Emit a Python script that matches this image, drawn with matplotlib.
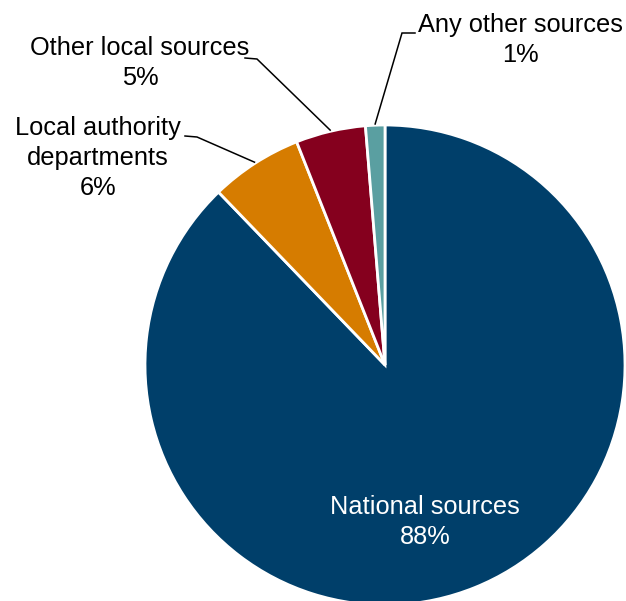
import matplotlib
matplotlib.use("Agg")
import matplotlib.pyplot as plt
import numpy as np

categories = ["National sources", "Local authority\ndepartments", "Other local sources", "Any other sources"]
values = [87.8, 6.2, 4.7, 1.3]
colors = ["#003F6A", "#D67C00", "#85001E", "#5A9FA1"]

plt.rcParams['font.family'] = ['Liberation Sans', 'DejaVu Sans']

W, H = 626, 601
fig = plt.figure(figsize=(W / 100, H / 100), dpi=100)
cx, cy, R = 385, 365, 240
ax = fig.add_axes([(cx - R) / W, (H - cy - R) / H, 2 * R / W, 2 * R / H])

wedges, _ = ax.pie(values, colors=colors, startangle=90, counterclock=False,
                   radius=1.0, wedgeprops=dict(edgecolor='white', linewidth=2))
ax.set_xlim(-1, 1)
ax.set_ylim(-1, 1)
ax.set_aspect('equal')
ax.axis('off')
for w in wedges:
    w.set_clip_on(False)

def px(x, y):
    return ((x - cx) / R, (cy - y) / R)

fs = 18.3
ls_ = 1.3
# National label inside
tx, ty = px(425, 522)
ax.text(tx, ty, f"{categories[0]}\n{round(values[0])}%", color='white', ha='center',
        va='center', fontsize=fs, linespacing=ls_)

# outside labels: (text center px, line start px, elbow px)
outside = {
    1: ((98, 158), (185, 136), (197, 137)),
    2: ((140, 63), (245, 58), (257, 59)),
    3: ((520, 40), (415, 33), (402, 33)),
}
for i, (tc, ls, el) in outside.items():
    x, y = px(*tc)
    ax.text(x, y, f"{categories[i]}\n{round(values[i])}%", ha='center', va='center',
            fontsize=fs, linespacing=ls_, color='black')
    w = wedges[i]
    mid = np.deg2rad((w.theta1 + w.theta2) / 2)
    ex, ey = 1.005 * np.cos(mid), 1.005 * np.sin(mid)
    p1 = px(*ls)
    p2 = px(*el)
    ax.plot([p1[0], p2[0], ex], [p1[1], p2[1], ey], color='black', lw=1.1,
            clip_on=False, solid_joinstyle='miter')

fig.savefig("out.png", dpi=100, facecolor='white')
